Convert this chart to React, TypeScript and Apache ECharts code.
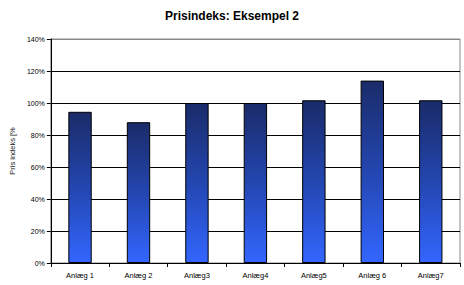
import React, { useEffect, useRef } from "react";
import * as echarts from "echarts";

const categories = ["Anlæg 1", "Anlæg 2", "Anlæg3", "Anlæg4", "Anlæg5", "Anlæg 6", "Anlæg7"];
const values = [94.5, 88, 100, 100, 101.7, 114, 101.7];
const title = "Prisindeks: Eksempel 2";
const yName = "Pris indeks [%";

export default function App() {
  const ref = useRef<HTMLDivElement>(null);
  useEffect(() => {
    document.body.style.margin = "0";
    const chart = echarts.init(ref.current!, null, { renderer: "svg" });
    chart.setOption({
      animation: false,
      backgroundColor: "#fff",
      title: {
        text: title,
        left: "center",
        top: 5,
        textStyle: { fontFamily: "Liberation Sans", fontSize: 12, fontWeight: "bold", color: "#000" },
      },
      grid: {
        left: 45, right: 4, top: 39, bottom: 22,
        show: true, borderColor: "#888", borderWidth: 1, backgroundColor: "#fff",
      },
      xAxis: {
        type: "category",
        data: categories,
        axisLine: { lineStyle: { color: "#000", width: 1 } },
        axisTick: { show: true, alignWithLabel: false, length: 4, lineStyle: { color: "#000" } },
        axisLabel: { fontFamily: "Liberation Sans", fontSize: 7.5, color: "#000", margin: 8 },
      },
      yAxis: {
        type: "value",
        min: 0, max: 140, interval: 20,
        name: yName,
        nameLocation: "middle",
        nameGap: 33,
        nameTextStyle: { fontFamily: "Liberation Sans", fontSize: 7.5, color: "#222" },
        axisLine: { show: true, lineStyle: { color: "#000", width: 1 } },
        axisTick: { show: true, length: 4, lineStyle: { color: "#000" } },
        axisLabel: { formatter: "{value}%", fontFamily: "Liberation Sans", fontSize: 7, color: "#000", margin: 6 },
        splitLine: {
          show: true,
          lineStyle: { color: ["#000", "#000", "#000", "#000", "#000", "#000", "#000", "#888"], width: 1 },
        },
      },
      series: [
        {
          type: "bar",
          data: values,
          barWidth: "40%",
          itemStyle: {
            borderColor: "#000",
            borderWidth: 1,
            color: new echarts.graphic.LinearGradient(0, 0, 0, 1, [
              { offset: 0, color: "#1a2b69" },
              { offset: 0.5, color: "#2346b0" },
              { offset: 1, color: "#3366ff" },
            ]),
          },
        },
      ],
    });
    return () => chart.dispose();
  }, []);
  return <div ref={ref} style={{ position: "absolute", left: 0, top: 0, width: 464, height: 285 }} />;
}
